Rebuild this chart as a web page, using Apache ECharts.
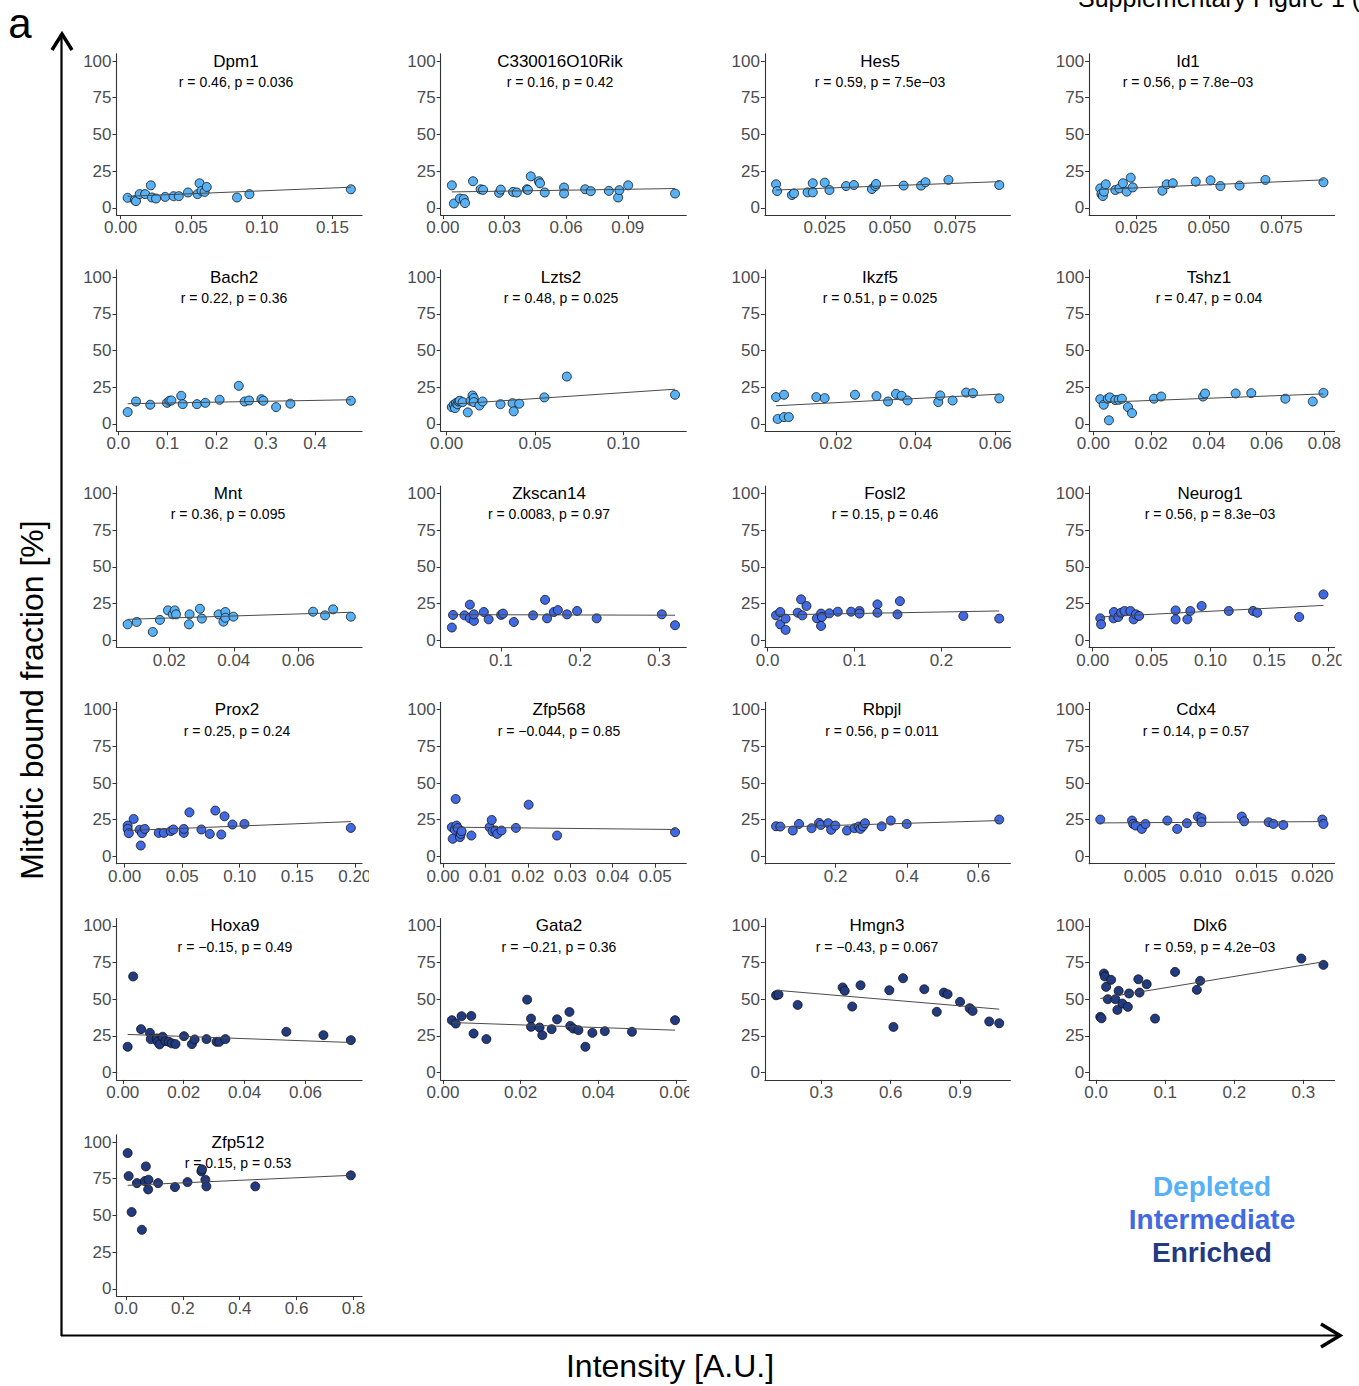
<!DOCTYPE html>
<html><head><meta charset="utf-8">
<script src="https://cdn.jsdelivr.net/npm/echarts@6/dist/echarts.min.js"></script>
<style>html,body{margin:0;padding:0;background:#fff}#c{width:1359px;height:1386px}</style>
</head><body><div id="c"></div>
<script>
// ---------- DATA ----------
const genes = ['Dpm1','C330016O10Rik','Hes5','Id1','Bach2','Lzts2','Ikzf5','Tshz1','Mnt','Zkscan14','Fosl2','Neurog1','Prox2','Zfp568','Rbpjl','Cdx4','Hoxa9','Gata2','Hmgn3','Dlx6','Zfp512'];
const corrLabels = ['r = 0.46, p = 0.036','r = 0.16, p = 0.42','r = 0.59, p = 7.5e\u221203','r = 0.56, p = 7.8e\u221203',
  'r = 0.22, p = 0.36','r = 0.48, p = 0.025','r = 0.51, p = 0.025','r = 0.47, p = 0.04',
  'r = 0.36, p = 0.095','r = 0.0083, p = 0.97','r = 0.15, p = 0.46','r = 0.56, p = 8.3e\u221203',
  'r = 0.25, p = 0.24','r = \u22120.044, p = 0.85','r = 0.56, p = 0.011','r = 0.14, p = 0.57',
  'r = \u22120.15, p = 0.49','r = \u22120.21, p = 0.36','r = \u22120.43, p = 0.067','r = 0.59, p = 4.2e\u221203',
  'r = 0.15, p = 0.53'];
const groupNames = ['Depleted','Intermediate','Enriched'];
const groupOf = [0,0,0,0, 0,0,0,0, 0,1,1,1, 1,1,1,1, 2,2,2,2, 2];

const dpm1 = [[0.005,6.8],[0.0101,5.2],[0.0109,4.5],[0.0135,9.3],[0.0174,9.3],[0.0214,15.3],[0.0222,7.0],[0.0251,6.3],[0.0316,7.4],[0.0375,7.9],[0.0412,7.9],[0.0477,10.4],[0.0545,9.3],[0.0559,16.7],[0.0573,11.5],[0.0595,10.8],[0.061,14.2],[0.0824,7.0],[0.0912,9.3],[0.163,12.6]];
const c330016o10rik = [[0.0044,15.3],[0.0054,2.9],[0.0083,6.3],[0.0102,5.9],[0.0108,3.2],[0.0147,18.1],[0.0184,12.6],[0.0196,12.2],[0.0274,10.2],[0.0282,12.4],[0.0342,10.8],[0.036,10.4],[0.0409,12.6],[0.0414,12.2],[0.0428,21.4],[0.0467,18.1],[0.0473,16.7],[0.0496,10.4],[0.059,13.8],[0.059,9.7],[0.0693,12.6],[0.072,11.3],[0.0808,11.5],[0.0853,7.0],[0.0859,12.0],[0.0902,15.3],[0.113,9.7]];
const hes5 = [[0.0063,16.0],[0.0067,11.4],[0.0124,8.7],[0.0132,9.8],[0.0184,10.5],[0.0204,16.7],[0.0204,10.5],[0.025,17.1],[0.0268,12.1],[0.0332,14.8],[0.0362,15.5],[0.0431,12.8],[0.0444,14.8],[0.0447,16.2],[0.0553,15.1],[0.062,15.1],[0.0637,17.4],[0.0725,19.0],[0.092,15.5]];
const id1 = [[0.0126,13.2],[0.013,9.4],[0.0135,8.0],[0.0139,11.0],[0.0145,16.0],[0.0178,12.1],[0.0192,13.2],[0.0204,16.7],[0.0217,11.0],[0.0231,20.5],[0.0238,13.9],[0.034,11.6],[0.0355,16.0],[0.0376,16.7],[0.0455,17.8],[0.0506,18.7],[0.054,14.8],[0.0606,15.1],[0.0695,19.0],[0.0895,17.4]];
const bach2 = [[0.019,8.1],[0.036,15.3],[0.065,13.1],[0.099,14.4],[0.104,15.8],[0.108,16.0],[0.128,19.2],[0.131,13.5],[0.160,13.5],[0.177,14.4],[0.206,16.5],[0.245,26.0],[0.257,15.3],[0.266,16.0],[0.291,16.9],[0.295,15.8],[0.321,11.5],[0.350,13.8],[0.473,15.8]];
const lzts2 = [[0.003,11.5],[0.0041,13.1],[0.0048,10.8],[0.0053,14.2],[0.0062,13.5],[0.0068,15.3],[0.0075,15.8],[0.0091,14.9],[0.012,7.9],[0.0136,15.8],[0.0147,19.4],[0.0154,17.6],[0.0154,14.9],[0.0186,12.6],[0.0204,15.3],[0.0305,13.5],[0.0373,14.2],[0.038,8.6],[0.0411,13.8],[0.0553,18.1],[0.068,32.3],[0.1292,19.9]];
const ikzf5 = [[0.005,18.3],[0.0054,3.4],[0.007,19.9],[0.007,4.7],[0.0082,4.7],[0.0151,18.3],[0.0172,17.6],[0.0248,19.9],[0.0302,19.0],[0.0331,15.3],[0.0351,20.5],[0.0365,19.2],[0.038,16.0],[0.0457,14.9],[0.0462,19.4],[0.0493,16.0],[0.0527,21.4],[0.0544,21.0],[0.061,17.4]];
const tshz1 = [[0.0024,16.9],[0.0036,13.1],[0.005,17.2],[0.0054,2.5],[0.0057,18.1],[0.0076,16.3],[0.0088,16.5],[0.0099,17.2],[0.012,11.5],[0.0134,7.4],[0.021,17.2],[0.0235,18.7],[0.038,18.7],[0.0387,20.8],[0.0493,20.8],[0.0547,21.0],[0.0665,17.2],[0.076,15.3],[0.0797,21.2]];
const mnt = [[0.0071,10.8],[0.0099,12.4],[0.0149,5.6],[0.0171,13.8],[0.0196,20.3],[0.0211,17.6],[0.0217,20.3],[0.0221,17.6],[0.0261,10.8],[0.0263,17.6],[0.0295,21.4],[0.0301,14.7],[0.0353,17.6],[0.0368,12.6],[0.0374,19.2],[0.0374,15.3],[0.0399,16.0],[0.0646,19.4],[0.0683,16.9],[0.0708,21.0],[0.0763,16.0]];
const zkscan14 = [[0.038,8.6],[0.0395,17.2],[0.054,16.9],[0.0608,24.2],[0.0608,14.9],[0.0659,13.1],[0.0659,17.6],[0.0785,19.2],[0.0846,14.2],[0.1003,17.2],[0.1028,18.1],[0.1165,12.4],[0.1408,16.9],[0.156,27.5],[0.1585,14.9],[0.1671,19.2],[0.1722,20.5],[0.1838,17.6],[0.1965,19.9],[0.2213,14.9],[0.3038,17.6],[0.3205,10.2]];
const fosl2 = [[0.0097,16.9],[0.0145,19.2],[0.0145,10.8],[0.0207,14.7],[0.0207,7.0],[0.0346,18.7],[0.0385,27.8],[0.0399,16.9],[0.0447,23.3],[0.0567,14.9],[0.0615,18.1],[0.0615,9.7],[0.0625,15.8],[0.0711,18.3],[0.0807,19.4],[0.0961,19.4],[0.1057,19.9],[0.1057,18.1],[0.1263,24.4],[0.1263,18.7],[0.1494,17.6],[0.1522,26.6],[0.2252,16.5],[0.2665,14.7]];
const neurog1 = [[0.0064,14.9],[0.0071,10.8],[0.0177,14.9],[0.018,19.2],[0.0217,15.8],[0.0241,18.7],[0.027,19.9],[0.032,19.9],[0.0348,14.2],[0.0366,17.6],[0.0394,16.5],[0.0704,20.3],[0.0704,14.2],[0.0804,14.2],[0.0829,19.9],[0.0925,23.3],[0.1156,19.9],[0.1362,19.9],[0.1398,18.7],[0.1754,15.8],[0.196,31.2]];
const prox2 = [[0.0026,21.0],[0.0026,18.7],[0.0036,15.8],[0.0078,25.5],[0.013,18.1],[0.014,7.4],[0.0151,15.8],[0.0175,18.7],[0.0296,16.0],[0.0341,16.0],[0.04,17.2],[0.0424,18.3],[0.0514,16.0],[0.0514,18.7],[0.0563,30.0],[0.0667,18.3],[0.074,15.3],[0.0788,31.2],[0.084,14.9],[0.0868,27.3],[0.0937,21.7],[0.1041,22.1],[0.1966,19.4]];
const zfp568 = [[0.0021,19.9],[0.0023,12.0],[0.0028,18.1],[0.003,39.1],[0.0032,21.0],[0.0035,19.2],[0.004,13.1],[0.0042,15.3],[0.0044,17.2],[0.0067,14.2],[0.011,19.9],[0.0115,24.8],[0.0117,16.9],[0.0124,17.6],[0.0128,15.3],[0.0138,17.6],[0.0172,19.4],[0.0202,35.2],[0.0269,14.2],[0.0547,16.5]];
const rbpjl = [[0.033,20.5],[0.0449,20.3],[0.0799,17.6],[0.0974,22.1],[0.1325,19.2],[0.1535,22.8],[0.1582,21.4],[0.1792,22.6],[0.1874,18.1],[0.1991,21.0],[0.2318,17.6],[0.2529,19.2],[0.2645,20.3],[0.2692,18.7],[0.2762,20.5],[0.2821,22.6],[0.3288,20.5],[0.3545,24.4],[0.399,22.1],[0.6583,25.1]];
const cdx4 = [[0.0010,25.1],[0.00385,24.4],[0.00395,22.1],[0.00417,21.0],[0.00472,18.7],[0.00505,22.1],[0.00701,24.4],[0.00789,18.7],[0.00876,22.6],[0.00975,27.1],[0.01007,26.0],[0.01007,23.3],[0.01368,27.1],[0.0139,23.9],[0.01609,23.3],[0.01652,22.1],[0.0174,21.4],[0.0209,25.1],[0.0210,22.1]];
const hoxa9 = [[0.0016,17.6],[0.0034,65.5],[0.006,29.6],[0.0089,27.1],[0.0092,22.8],[0.0112,23.3],[0.0115,21.0],[0.0121,19.2],[0.0131,24.4],[0.014,21.4],[0.0151,21.0],[0.0161,19.9],[0.0173,19.4],[0.0201,24.8],[0.0227,19.4],[0.0236,22.6],[0.0275,22.8],[0.0308,21.0],[0.0317,21.0],[0.0337,22.8],[0.0537,27.8],[0.0659,25.5],[0.0749,22.1]];
const gata2 = [[0.0023,35.7],[0.0033,33.4],[0.0048,38.4],[0.0073,38.6],[0.0079,26.6],[0.0112,22.8],[0.0217,49.7],[0.0227,36.8],[0.0227,31.2],[0.0249,30.7],[0.0256,25.5],[0.028,29.6],[0.0294,36.3],[0.0326,41.3],[0.0328,31.8],[0.0336,30.0],[0.0349,28.9],[0.0367,17.6],[0.0385,27.1],[0.0417,28.2],[0.0487,27.8],[0.0598,35.7]];
const hmgn3 = [[0.104,52.7],[0.1146,53.2],[0.1975,46.1],[0.392,58.0],[0.401,55.7],[0.4335,45.0],[0.4695,59.5],[0.5938,56.1],[0.6118,31.1],[0.6533,64.3],[0.7452,56.8],[0.7992,41.4],[0.8298,54.5],[0.846,53.4],[0.9,48.2],[0.9415,43.9],[0.9541,42.0],[1.0262,34.8],[1.0694,33.6]];
const dlx6 = [[0.006,38.0],[0.0078,37.0],[0.0114,67.5],[0.0127,65.5],[0.0145,58.4],[0.0169,50.0],[0.0217,63.2],[0.0278,50.0],[0.0308,42.7],[0.0326,55.7],[0.0381,47.0],[0.0459,44.8],[0.0477,53.9],[0.0611,63.6],[0.0629,54.5],[0.0732,60.2],[0.0853,36.8],[0.1143,68.6],[0.1458,56.4],[0.1506,62.5],[0.297,77.7],[0.329,73.4]];
const zfp512 = [[0.0058,92.5],[0.0093,76.8],[0.0198,52.3],[0.0384,72.0],[0.0558,40.2],[0.0663,73.4],[0.0698,83.4],[0.0779,67.7],[0.0791,74.3],[0.1128,72.0],[0.1721,69.3],[0.2163,72.7],[0.2651,80.0],[0.2674,81.4],[0.2791,74.3],[0.2826,69.8],[0.4547,69.8],[0.7907,77.3]];

const panelData = [dpm1,c330016o10rik,hes5,id1,bach2,lzts2,ikzf5,tshz1,mnt,zkscan14,fosl2,neurog1,prox2,zfp568,rbpjl,cdx4,hoxa9,gata2,hmgn3,dlx6,zfp512];

// fitted regression line: value at smallest x and at largest x of each panel
const fitStart = [7.8,10.8,12.1,12.5,13.8,13.5,12.4,14.7,14.2,17.4,17.2,15.8,17.6,19.9,19.9,22.8,26.0,34.1,56.1,50.5,70.5];
const fitEnd   = [14.0,13.1,17.8,19.0,16.5,23.7,20.3,20.5,19.0,17.0,19.9,23.7,23.7,18.3,24.4,23.7,20.5,28.9,43.2,75.5,77.3];

const xTickLabels = [
  ['0.00','0.05','0.10','0.15'], ['0.00','0.03','0.06','0.09'], ['0.025','0.050','0.075'], ['0.025','0.050','0.075'],
  ['0.0','0.1','0.2','0.3','0.4'], ['0.00','0.05','0.10'], ['0.02','0.04','0.06'], ['0.00','0.02','0.04','0.06','0.08'],
  ['0.02','0.04','0.06'], ['0.1','0.2','0.3'], ['0.0','0.1','0.2'], ['0.00','0.05','0.10','0.15','0.20'],
  ['0.00','0.05','0.10','0.15','0.20'], ['0.00','0.01','0.02','0.03','0.04','0.05'], ['0.2','0.4','0.6'], ['0.005','0.010','0.015','0.020'],
  ['0.00','0.02','0.04','0.06'], ['0.00','0.02','0.04','0.06'], ['0.3','0.6','0.9'], ['0.0','0.1','0.2','0.3'],
  ['0.0','0.2','0.4','0.6','0.8']];
const yTickValues = [0,25,50,75,100];
const yTitle = 'Mitotic bound fraction [%]';
const xTitle = 'Intensity [A.U.]';

// ---------- LAYOUT / STYLE ----------
const FONT = '"Liberation Sans", Arial, Helvetica, sans-serif';
const groupColors = ['#56B1F7','#4169E1','#223A80'];
const GX0 = 116.5, GDX = 324.2, GW = 245.5;
const GY0 = 53.7, GDY = 216.2, GH = 161.4;
const titleCenterX = [236,560,880,1188, 234,561,880,1209, 228,549,885,1210, 237,559,882,1196, 235,559,877,1210, 238];
const clipOffsets = {7: 8, 11: 7, 12: 7, 17: 3};

const grids = [], xAxes = [], yAxes = [], series = [], graphics = [];
panelData.forEach((pts, i) => {
  const row = Math.floor(i / 4), col = i % 4;
  const left = GX0 + col * GDX, top = GY0 + row * GDY;
  grids.push({left, top, width: GW, height: GH, containLabel: false, outerBoundsMode: 'none'});
  const labels = xTickLabels[i];
  const ticks = labels.map(parseFloat);
  xAxes.push({
    type: 'value', gridIndex: i,
    min: v => v.min - 0.05 * (v.max - v.min),
    max: v => v.max + 0.05 * (v.max - v.min),
    splitLine: {show: false},
    axisLine: {show: true, onZero: false, lineStyle: {color: '#333', width: 1.1}},
    axisTick: {show: true, length: 4, customValues: ticks, lineStyle: {color: '#333', width: 1}},
    axisLabel: {show: true, customValues: ticks, margin: 4, color: '#4d4d4d', fontSize: 17, fontFamily: FONT,
      formatter: v => { const k = ticks.findIndex(t => Math.abs(t - v) < 1e-9); return k >= 0 ? labels[k] : ''; }}
  });
  yAxes.push({
    type: 'value', gridIndex: i, min: -5, max: 105,
    splitLine: {show: false},
    axisLine: {show: true, onZero: false, lineStyle: {color: '#333', width: 1.1}},
    axisTick: {show: true, length: 4, customValues: yTickValues, lineStyle: {color: '#333', width: 1}},
    axisLabel: {show: true, customValues: yTickValues, margin: 5, color: '#4d4d4d', fontSize: 17, fontFamily: FONT}
  });
  const color = groupColors[groupOf[i]];
  series.push({
    type: 'scatter', xAxisIndex: i, yAxisIndex: i, data: pts, symbol: 'circle', symbolSize: 9, z: 2,
    itemStyle: {color, borderColor: '#111', borderWidth: 0.8, opacity: 1}, silent: true
  });
  const xs = pts.map(p => p[0]);
  const xmin = Math.min(...xs), xmax = Math.max(...xs);
  series.push({
    type: 'line', xAxisIndex: i, yAxisIndex: i, data: [[xmin, fitStart[i]], [xmax, fitEnd[i]]],
    symbol: 'none', showSymbol: false, z: 3, silent: true,
    lineStyle: {color: '#4a4a4a', width: 1}
  });
  const yc = top + 5 * GH / 110;
  graphics.push({type: 'text', x: titleCenterX[i], y: yc, z: 50,
    style: {text: genes[i], fill: '#000', fontSize: 17, fontFamily: FONT, textAlign: 'center', align: 'center', textVerticalAlign: 'middle', verticalAlign: 'middle'}});
  graphics.push({type: 'text', x: titleCenterX[i], y: yc + 21, z: 50,
    style: {text: corrLabels[i], fill: '#000', fontSize: 14, fontFamily: FONT, textAlign: 'center', align: 'center', textVerticalAlign: 'middle', verticalAlign: 'middle'}});
  if (clipOffsets[i] !== undefined) {
    graphics.push({type: 'rect', z: 60, shape: {x: left + GW + clipOffsets[i], y: top + GH + 2, width: 30, height: 24}, style: {fill: '#fff'}});
  }
});

// frame arrows and titles
graphics.push(
  {type: 'text', x: 20, y: 23, z: 50, style: {text: 'a', fill: '#000', fontSize: 42, lineHeight: 40, fontFamily: FONT, textAlign: 'center', align: 'center', textVerticalAlign: 'middle', verticalAlign: 'middle'}},
  {type: 'text', x: 1078, y: -2, z: 50, style: {text: 'Supplementary Figure 1 (continued)', fill: '#000', fontSize: 25, fontFamily: FONT, textAlign: 'left', align: 'left', textVerticalAlign: 'middle', verticalAlign: 'middle'}},
  {type: 'line', z: 40, shape: {x1: 61.5, y1: 1336, x2: 61.5, y2: 36}, style: {stroke: '#000', lineWidth: 2.2}},
  {type: 'polyline', z: 40, shape: {points: [[52, 50], [62, 34], [72, 50]]}, style: {stroke: '#000', lineWidth: 3.5, fill: null}},
  {type: 'line', z: 40, shape: {x1: 61, y1: 1335.5, x2: 1338, y2: 1335.5}, style: {stroke: '#000', lineWidth: 2.2}},
  {type: 'polyline', z: 40, shape: {points: [[1321, 1324], [1340, 1335.5], [1321, 1347]]}, style: {stroke: '#000', lineWidth: 3.5, fill: null}},
  {type: 'text', x: 32, y: 700, rotation: Math.PI / 2, z: 50, style: {text: yTitle, fill: '#000', fontSize: 32, fontFamily: FONT, textAlign: 'center', align: 'center', textVerticalAlign: 'middle', verticalAlign: 'middle'}},
  {type: 'text', x: 670, y: 1366, z: 50, style: {text: xTitle, fill: '#000', fontSize: 32, fontFamily: FONT, textAlign: 'center', align: 'center', textVerticalAlign: 'middle', verticalAlign: 'middle'}}
);
groupNames.forEach((g, k) => {
  graphics.push({type: 'text', x: 1212, y: 1186 + k * 33, z: 50,
    style: {text: g, fill: groupColors[k], fontSize: 28, fontWeight: 'bold', fontFamily: FONT, textAlign: 'center', align: 'center', textVerticalAlign: 'middle', verticalAlign: 'middle'}});
});

const chart = echarts.init(document.getElementById('c'), null, {renderer: 'svg', width: 1359, height: 1386});
chart.setOption({
  animation: false,
  backgroundColor: '#fff',
  textStyle: {fontFamily: FONT},
  grid: grids, xAxis: xAxes, yAxis: yAxes, series,
  graphic: {elements: graphics}
});
</script></body></html>
